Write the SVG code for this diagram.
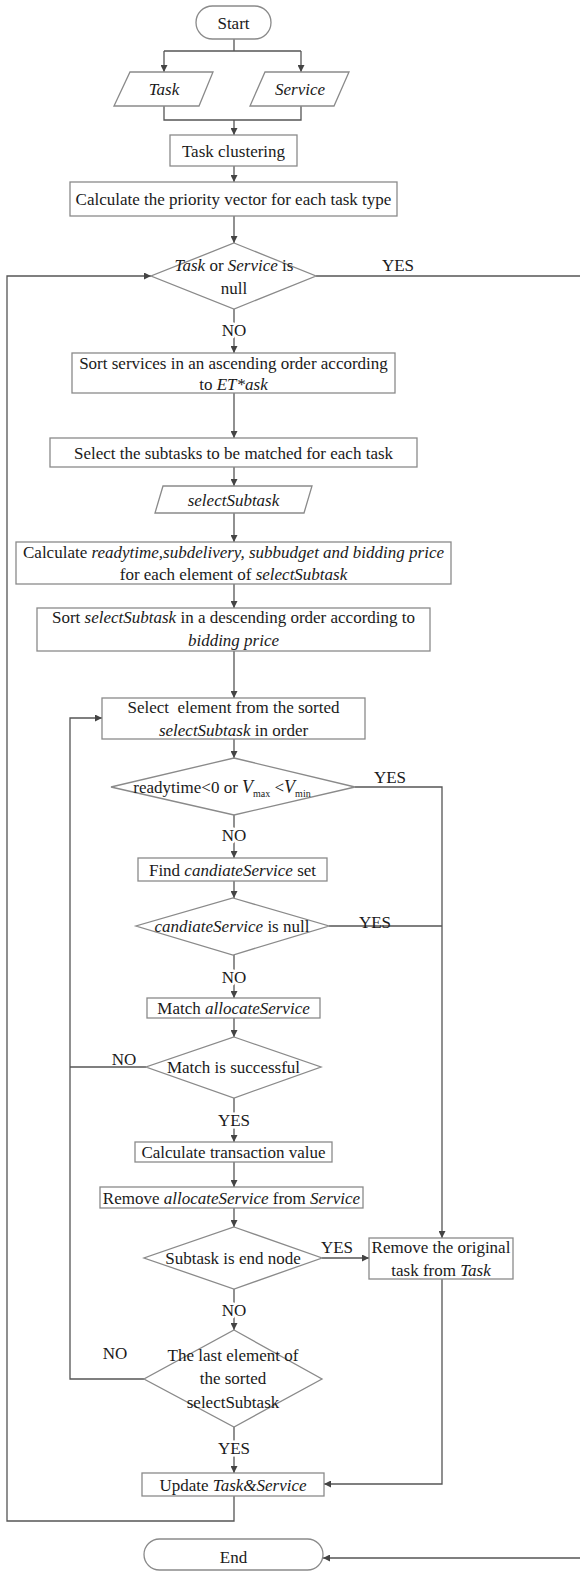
<svg xmlns="http://www.w3.org/2000/svg" width="580" height="1572" viewBox="0 0 580 1572" font-family="'Times New Roman', 'Liberation Serif', 'DejaVu Serif', serif">
  <style>
    .node { fill: #ffffff; stroke: #8a8a8a; stroke-width: 1.3; }
    .edge { fill: none; stroke: #555555; stroke-width: 1.3; }
    text { font-family: 'Times New Roman', 'Liberation Serif', 'DejaVu Serif', serif; font-size: 17px; fill: #1a1a1a; text-anchor: middle; }
    .it { font-style: italic; }
    .lbl { stroke: #ffffff; stroke-width: 5; paint-order: stroke; stroke-linejoin: round; }
    .sub { font-size: 10px; font-style: normal; }
  </style>
  <defs>
    <marker id="arrow" viewBox="0 0 10 10" refX="10" refY="5" markerWidth="7" markerHeight="7" orient="auto" markerUnits="userSpaceOnUse">
      <path d="M0,0 L10,5 L0,10 z" fill="#444444"/>
    </marker>
  </defs>

  <!-- connectors -->
  <g id="connectors">
    <path class="edge" d="M234,39 V51 M164,51 H301" />
    <path class="edge" d="M164,51 V72" marker-end="url(#arrow)"/>
    <path class="edge" d="M301,51 V72" marker-end="url(#arrow)"/>
    <path class="edge" d="M164,106 V120 H301 V106" />
    <path class="edge" d="M234,120 V135" marker-end="url(#arrow)"/>
    <path class="edge" d="M234,166 V182" marker-end="url(#arrow)"/>
    <path class="edge" d="M234,216 V243" marker-end="url(#arrow)"/>
    <!-- outer loop back to the null check -->
    <path class="edge" d="M234,1496 V1521 H7 V276 H151" marker-end="url(#arrow)"/>
    <!-- YES: straight to End -->
    <path class="edge" d="M316,276 H580" />
    <path class="edge" d="M580,1558 H323" marker-end="url(#arrow)"/>
    <path class="edge" d="M234,309 V353" marker-end="url(#arrow)"/>
    <path class="edge" d="M234,393 V438" marker-end="url(#arrow)"/>
    <path class="edge" d="M234,467 V486" marker-end="url(#arrow)"/>
    <path class="edge" d="M234,513 V542" marker-end="url(#arrow)"/>
    <path class="edge" d="M234,584 V608" marker-end="url(#arrow)"/>
    <path class="edge" d="M234,651 V698" marker-end="url(#arrow)"/>
    <path class="edge" d="M234,739 V758" marker-end="url(#arrow)"/>
    <!-- YES branches to removing the task -->
    <path class="edge" d="M355,787 H442 V1238" marker-end="url(#arrow)"/>
    <path class="edge" d="M329,926 H442" />
    <path class="edge" d="M234,815 V858" marker-end="url(#arrow)"/>
    <path class="edge" d="M234,881 V898" marker-end="url(#arrow)"/>
    <path class="edge" d="M234,955 V998" marker-end="url(#arrow)"/>
    <path class="edge" d="M234,1018 V1037" marker-end="url(#arrow)"/>
    <!-- inner loop back to element selection -->
    <path class="edge" d="M146,1067 H70" />
    <path class="edge" d="M144,1379 H70 V718 H102" marker-end="url(#arrow)"/>
    <path class="edge" d="M234,1098 V1142" marker-end="url(#arrow)"/>
    <path class="edge" d="M234,1162 V1187" marker-end="url(#arrow)"/>
    <path class="edge" d="M234,1208 V1227" marker-end="url(#arrow)"/>
    <path class="edge" d="M322,1258 H369" marker-end="url(#arrow)"/>
    <path class="edge" d="M234,1289 V1330" marker-end="url(#arrow)"/>
    <path class="edge" d="M442,1279 V1484 H324" marker-end="url(#arrow)"/>
    <path class="edge" d="M234,1427 V1473" marker-end="url(#arrow)"/>

    <!-- branch labels -->
    <text x="398" y="271">YES</text>
    <text class="lbl" x="234" y="336">NO</text>
    <text x="390" y="783">YES</text>
    <text class="lbl" x="234" y="841">NO</text>
    <text x="375" y="928">YES</text>
    <text class="lbl" x="234" y="983">NO</text>
    <text x="124" y="1065">NO</text>
    <text class="lbl" x="234" y="1126">YES</text>
    <text x="337" y="1253">YES</text>
    <text class="lbl" x="234" y="1316">NO</text>
    <text x="115" y="1359">NO</text>
    <text class="lbl" x="234" y="1454">YES</text>
  </g>

  <g id="start">
    <rect class="node" x="196" y="6" width="75" height="33" rx="16.5"/>
    <text x="233.5" y="28.5">Start</text>
  </g>
  <g id="task-input">
    <polygon class="node" points="130,72 213,72 199,106 114,106"/>
    <text class="it" x="164" y="95">Task</text>
  </g>
  <g id="service-input">
    <polygon class="node" points="265,72 349,72 334,106 250,106"/>
    <text class="it" x="300" y="95">Service</text>
  </g>
  <g id="task-clustering">
    <rect class="node" x="170" y="135" width="127" height="31"/>
    <text x="233.5" y="156.5">Task clustering</text>
  </g>
  <g id="priority-vector">
    <rect class="node" x="70" y="182" width="327" height="34"/>
    <text x="233.5" y="205">Calculate the priority vector for each task type</text>
  </g>
  <g id="null-check">
    <polygon class="node" points="234,243 316,276 234,309 151,276"/>
    <text x="234" y="271"><tspan class="it">Task</tspan> or <tspan class="it">Service</tspan> is</text>
    <text x="234" y="294">null</text>
  </g>
  <g id="sort-services">
    <rect class="node" x="72" y="353" width="323" height="40"/>
    <text x="233.5" y="369">Sort services in an ascending order according</text>
    <text x="233.5" y="390">to <tspan class="it">ET*ask</tspan></text>
  </g>
  <g id="select-subtasks">
    <rect class="node" x="50" y="438" width="367" height="29"/>
    <text x="233.5" y="458.5">Select the subtasks to be matched for each task</text>
  </g>
  <g id="select-subtask-data">
    <polygon class="node" points="163,486 312,486 304,513 155,513"/>
    <text class="it" x="233.5" y="505.5">selectSubtask</text>
  </g>
  <g id="calc-readytime">
    <rect class="node" x="16" y="542" width="435" height="42"/>
    <text x="233.5" y="558">Calculate <tspan class="it">readytime,subdelivery, subbudget and bidding price</tspan></text>
    <text x="233.5" y="580">for each element of <tspan class="it">selectSubtask</tspan></text>
  </g>
  <g id="sort-subtasks">
    <rect class="node" x="37" y="608" width="393" height="43"/>
    <text x="233.5" y="623">Sort <tspan class="it">selectSubtask</tspan> in a descending order according to</text>
    <text class="it" x="233.5" y="646">bidding price</text>
  </g>
  <g id="select-element">
    <rect class="node" x="102" y="698" width="263" height="41"/>
    <text x="233.5" y="713" xml:space="preserve">Select  element from the sorted</text>
    <text x="233.5" y="736"><tspan class="it">selectSubtask</tspan> in order</text>
  </g>
  <g id="readytime-check">
    <polygon class="node" points="234,758 355,787 234,815 111,787"/>
    <text x="222" y="793">readytime&lt;0 or <tspan class="it" font-size="18">V</tspan><tspan class="sub" dy="4">max</tspan><tspan dy="-4"> &lt;</tspan><tspan class="it" font-size="18">V</tspan><tspan class="sub" dy="4">min</tspan></text>
  </g>
  <g id="find-candidates">
    <rect class="node" x="138" y="858" width="189" height="23"/>
    <text x="232.5" y="875.5">Find <tspan class="it">candiateService</tspan> set</text>
  </g>
  <g id="candidates-check">
    <polygon class="node" points="233,898 329,926 233,955 136,926"/>
    <text x="232" y="932"><tspan class="it">candiateService</tspan> is null</text>
  </g>
  <g id="match-service">
    <rect class="node" x="147" y="998" width="173" height="20"/>
    <text x="233.5" y="1014">Match <tspan class="it">allocateService</tspan></text>
  </g>
  <g id="match-check">
    <polygon class="node" points="234,1037 321,1067 234,1098 146,1067"/>
    <text x="233.5" y="1073">Match is successful</text>
  </g>
  <g id="transaction-value">
    <rect class="node" x="135" y="1142" width="197" height="20"/>
    <text x="233.5" y="1158">Calculate transaction value</text>
  </g>
  <g id="remove-service">
    <rect class="node" x="100" y="1187" width="263" height="21"/>
    <text x="231.5" y="1203.5">Remove <tspan class="it">allocateService</tspan> from <tspan class="it">Service</tspan></text>
  </g>
  <g id="end-node-check">
    <polygon class="node" points="234,1227 322,1258 234,1289 144,1258"/>
    <text x="233" y="1264">Subtask is end node</text>
  </g>
  <g id="remove-task">
    <rect class="node" x="369" y="1238" width="144" height="41"/>
    <text x="441" y="1253">Remove the original</text>
    <text x="441" y="1276">task from <tspan class="it">Task</tspan></text>
  </g>
  <g id="last-element-check">
    <polygon class="node" points="234,1330 322,1379 234,1427 144,1379"/>
    <text x="233" y="1361">The last element of</text>
    <text x="233" y="1384">the sorted</text>
    <text x="233" y="1408">selectSubtask</text>
  </g>
  <g id="update">
    <rect class="node" x="142" y="1473" width="182" height="23"/>
    <text x="233" y="1491">Update <tspan class="it">Task&amp;Service</tspan></text>
  </g>
  <g id="end">
    <rect class="node" x="144" y="1539" width="179" height="31" rx="15.5"/>
    <text x="233.5" y="1563">End</text>
  </g>
</svg>
